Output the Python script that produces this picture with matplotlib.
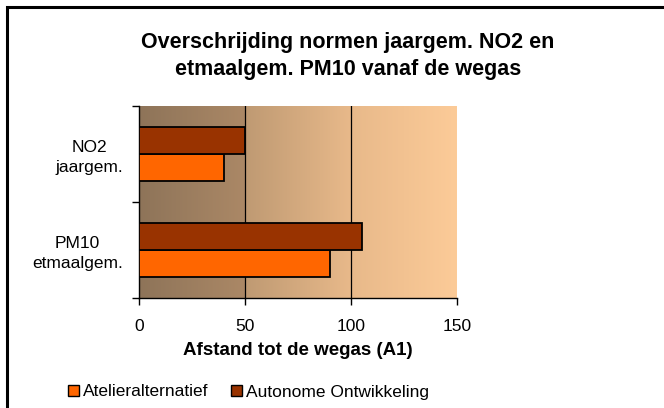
import numpy as np
import matplotlib
matplotlib.use("Agg")
import matplotlib.pyplot as plt
from matplotlib.patches import Rectangle, Patch
from matplotlib.colors import LinearSegmentedColormap

plt.rcParams['font.family'] = ['Liberation Sans', 'DejaVu Sans']

categories = ["PM10\netmaalgem.", "NO2\njaargem."]
atelier = [90, 40]
autonoom = [105, 50]
series_names = ["Atelieralternatief", "Autonome Ontwikkeling"]
xticks = [0, 50, 100, 150]

W, H = 664, 408
fig = plt.figure(figsize=(W/100, H/100), dpi=100)
fig.patch.set_facecolor("white")

# outer frame
fig.patches.append(Rectangle((7/W, -0.1), 1.2, (H-7)/H + 0.1, transform=fig.transFigure,
                             fill=False, edgecolor="black", linewidth=2.2))

ax = fig.add_axes([139/W, 1-298/H, (457-139)/W, (298-106)/H])

# gradient background
cmap = LinearSegmentedColormap.from_list(
    "g", [(0.0, "#8E7459"), (0.333, "#AB8866"), (0.336, "#BF9A73"),
          (0.666, "#E8B98A"), (1.0, "#FCCB98")])
grad = np.linspace(0, 1, 512).reshape(1, -1)
ax.imshow(grad, cmap=cmap, aspect="auto", extent=[0, 150, -0.5, 1.5], zorder=0)

y = np.arange(len(categories))
h = 0.28
ax.barh(y - h/2, atelier, height=h, color="#FF6600", edgecolor="black", linewidth=1.3, zorder=3,
        label=series_names[0])
ax.barh(y + h/2, autonoom, height=h, color="#993300", edgecolor="black", linewidth=1.3, zorder=3,
        label=series_names[1])

ax.set_xlim(0, 150)
ax.set_ylim(-0.5, 1.5)
ax.set_xticks(xticks)
ax.set_xticklabels([str(t) for t in xticks], fontsize=12.5)
ax.tick_params(axis="x", length=5, width=1, pad=10, direction="out")
for xv in xticks[1:-1]:
    ax.axvline(xv, color="black", linewidth=0.9, zorder=2)

ax.set_yticks([-0.5, 0.5, 1.5])
ax.set_yticklabels([])
ax.tick_params(axis="y", length=5, width=1, direction="out")
ax.set_yticks(y, minor=True)
ax.set_yticklabels(categories, minor=True, fontsize=12.5, ha="right", multialignment="center",
                   linespacing=1.35)
ax.tick_params(axis="y", which="minor", length=0, pad=11.5)

for s in ["top", "right"]:
    ax.spines[s].set_visible(False)
ax.spines["left"].set_linewidth(1)
ax.spines["bottom"].set_linewidth(1)

ax.set_xlabel("Afstand tot de wegas (A1)", fontsize=13.5, fontweight="bold", labelpad=6)

fig.text(348/W, 1-56/H, "Overschrijding normen jaargem. NO2 en\netmaalgem. PM10 vanaf de wegas",
         ha="center", va="center", fontsize=15.5, fontweight="bold", linespacing=1.35)

handles = [Patch(facecolor="#FF6600", edgecolor="black", label=series_names[0]),
           Patch(facecolor="#993300", edgecolor="black", label=series_names[1])]
fig.legend(handles=handles, loc="center left", bbox_to_anchor=(68/W, 1-392/H), ncol=2,
           frameon=False, fontsize=12.5, handlelength=0.65, handleheight=0.65,
           handletextpad=0.2, columnspacing=1.3, borderaxespad=0, borderpad=0)

fig.savefig("out.png", dpi=100)
